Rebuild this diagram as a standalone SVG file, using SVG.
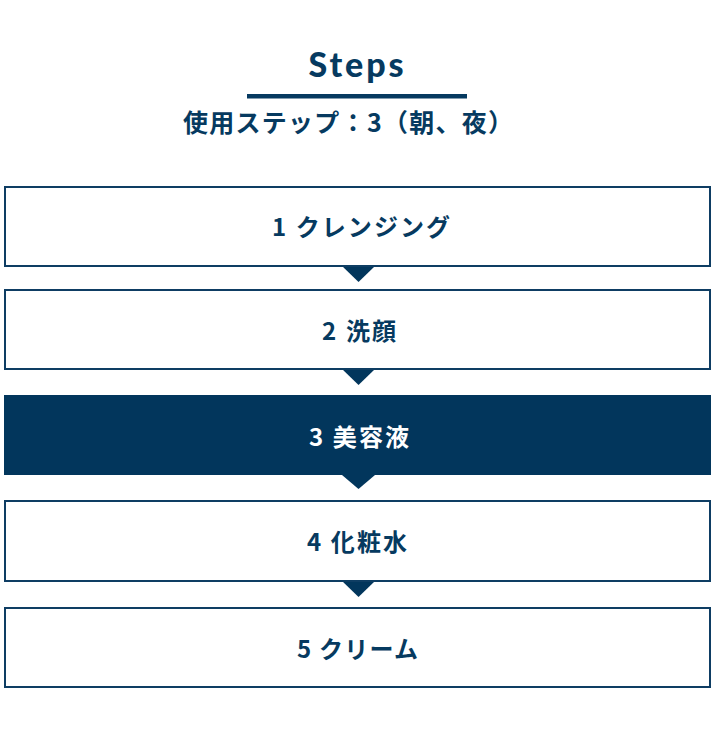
<svg xmlns="http://www.w3.org/2000/svg" width="716" height="749" viewBox="0 0 716 749">
<style>
.box{fill:#ffffff;stroke:#0e3d63;stroke-width:2}
.boxon{fill:#02365c}
.lbl{font-family:"Noto Sans CJK JP","Noto Sans",sans-serif;font-weight:700;font-size:24px;fill:#063a60;text-anchor:middle;dominant-baseline:central}
.lblon{fill:#ffffff}
.tri{fill:#02365c}
.title{font-family:Lato,"Noto Sans",sans-serif;font-weight:900;font-size:34px;fill:#063a60;text-anchor:middle}
.sub{font-family:"Noto Sans CJK JP",sans-serif;font-weight:700;font-size:25px;fill:#063a60;text-anchor:middle;dominant-baseline:central}
</style>
<rect width="716" height="749" fill="#ffffff"/>
<g id="header">
<text class="title" x="356" y="77" textLength="95" lengthAdjust="spacing">Steps</text>
<rect x="247" y="94" width="220" height="4.5" fill="#063a60"/>
<text class="sub" x="348" y="121" textLength="330" lengthAdjust="spacing">使用ステップ：3（朝、夜）</text>
</g>
<g id="connectors">
<polygon class="tri" points="342,266 375,266 358.5,282"/>
<polygon class="tri" points="342,369 375,369 358.5,385"/>
<polygon class="tri" points="342,475 375,475 358.5,489"/>
<polygon class="tri" points="342,581 375,581 358.5,597"/>
</g>
<g id="step1">
<rect class="box" x="5" y="187" width="705" height="79"/>
<text class="lbl" x="361" y="225" textLength="178" lengthAdjust="spacing">1 クレンジング</text>
</g>
<g id="step2">
<rect class="box" x="5" y="290" width="705" height="79"/>
<text class="lbl" x="359" y="329" textLength="74" lengthAdjust="spacing">2 洗顔</text>
</g>
<g id="step3">
<rect class="boxon" x="4" y="395" width="707" height="80"/>
<text class="lbl lblon" x="359" y="435" textLength="100" lengthAdjust="spacing">3 美容液</text>
</g>
<g id="step4">
<rect class="box" x="5" y="501" width="705" height="80"/>
<text class="lbl" x="357" y="540" textLength="100" lengthAdjust="spacing">4 化粧水</text>
</g>
<g id="step5">
<rect class="box" x="5" y="608" width="705" height="79"/>
<text class="lbl" x="357.5" y="647" textLength="121" lengthAdjust="spacing">5 クリーム</text>
</g>
</svg>
